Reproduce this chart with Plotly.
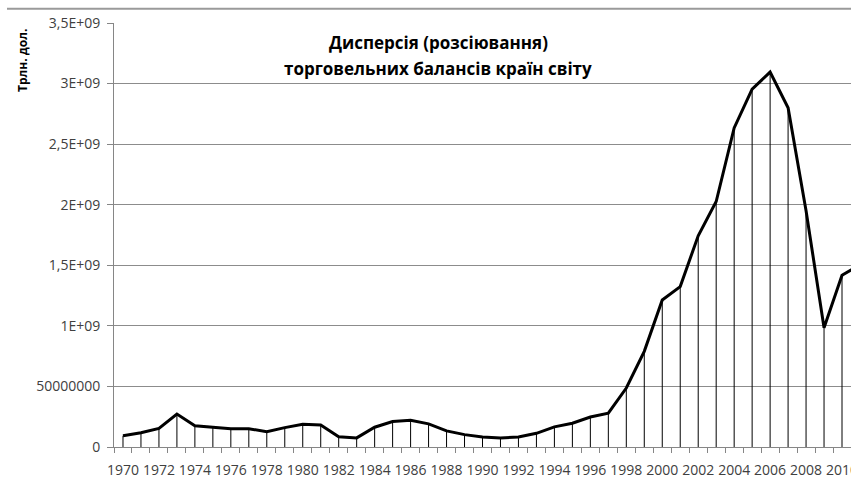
import plotly.graph_objects as go

years = list(range(1970, 2012))
dispersion = [
    0.093e9, 0.118e9, 0.154e9, 0.272e9, 0.176e9, 0.165e9, 0.151e9, 0.151e9, 0.126e9, 0.160e9,
    0.188e9, 0.182e9, 0.085e9, 0.075e9, 0.163e9, 0.210e9, 0.221e9, 0.191e9, 0.133e9, 0.102e9,
    0.083e9, 0.075e9, 0.083e9, 0.113e9, 0.166e9, 0.196e9, 0.248e9, 0.279e9, 0.487e9, 0.790e9,
    1.213e9, 1.324e9, 1.744e9, 2.026e9, 2.634e9, 2.954e9, 3.095e9, 2.800e9, 1.951e9, 0.984e9,
    1.418e9, 1.505e9,
]
y_tickvals = [0, 0.5e9, 1e9, 1.5e9, 2e9, 2.5e9, 3e9, 3.5e9]
y_ticktext = ["0", "50000000", "1E+09", "1,5E+09", "2E+09", "2,5E+09", "3E+09", "3,5E+09"]
x_label_years = list(range(1970, 2012, 2))
title_lines = ["Дисперсія (розсіювання)", "торговельних балансів країн світу"]
y_title = "Трлн. дол."

FONT = "Open Sans"
W, H = 851, 479
ML, MT, MR, MB = 7, 7, 0, 32
PW, PH = W - ML - MR, H - MT - MB
PLOT_L, PLOT_T = 114, 23


def px_x(px):
    return (px - ML) / PW


def px_y(py):
    return 1 - (py - MT) / PH


fig = go.Figure()
fig.add_trace(go.Scatter(
    x=years, y=dispersion, mode="lines",
    line=dict(color="black", width=3),
    error_y=dict(type="data", symmetric=False, array=[0] * len(dispersion),
                 arrayminus=dispersion, width=0, thickness=1, color="black"),
    showlegend=False, hoverinfo="x+y",
))

fig.update_layout(
    width=W, height=H,
    margin=dict(l=ML, r=MR, t=MT, b=MB, pad=0),
    paper_bgcolor="white", plot_bgcolor="white",
    font=dict(family=FONT, size=12, color="#404040"),
    xaxis=dict(
        domain=[px_x(PLOT_L), 1.0],
        range=[1969.5, 2010.5],
        tickmode="array", tickvals=[y + 0.5 for y in range(1969, 2012)],
        showticklabels=False, automargin=False,
        ticks="outside", ticklen=5, tickcolor="#868686", tickwidth=1,
        showline=True, linecolor="#868686", linewidth=1,
        showgrid=False, zeroline=False,
    ),
    xaxis2=dict(
        overlaying="x", matches="x", side="bottom", anchor="y", automargin=False,
        tickmode="array", tickvals=x_label_years, ticktext=[str(v) for v in x_label_years],
        ticks="", showline=False, showgrid=False, zeroline=False,
        tickfont=dict(family=FONT, size=14, color="#404040"),
        ticklabelstandoff=13, ticklabeloverflow="allow",
    ),
    yaxis=dict(
        domain=[0, px_y(PLOT_T)],
        range=[0, 3.5e9], automargin=False,
        tickmode="array", tickvals=y_tickvals, ticktext=y_ticktext,
        ticks="outside", ticklen=6, tickcolor="#868686",
        showline=True, linecolor="#868686", linewidth=1,
        showgrid=True, gridcolor="#8c8c8c", gridwidth=1,
        zeroline=False,
        tickfont=dict(family=FONT, size=14, color="#404040"),
        ticklabelstandoff=4,
    ),
    shapes=[
        dict(type="line", xref="paper", yref="paper", layer="above",
             x0=0, x1=1.0, y0=0.996, y1=0.996, line=dict(color="#9a9a9a", width=2)),
    ],
)
fig.add_trace(go.Scatter(x=[years[0]], y=[0], xaxis="x2", mode="markers",
                         marker=dict(opacity=0), showlegend=False, hoverinfo="skip"))

title_y_px = [43, 69]
for txt, ypx in zip(title_lines, title_y_px):
    fig.add_annotation(text=txt, xref="paper", yref="paper",
                       x=px_x(438), y=px_y(ypx),
                       xanchor="center", yanchor="middle", showarrow=False,
                       font=dict(family=FONT, size=17, color="black", weight="bold"))

fig.add_annotation(text=y_title, xref="paper", yref="paper",
                   x=px_x(23), y=px_y(61), textangle=-90,
                   xanchor="center", yanchor="middle", showarrow=False,
                   font=dict(family=FONT, size=12, color="black", weight="bold"))

fig.write_html("out.html", config={"displayModeBar": False}, post_script=(
    "document.body.style.margin='0';document.body.style.overflow='hidden';"
))
